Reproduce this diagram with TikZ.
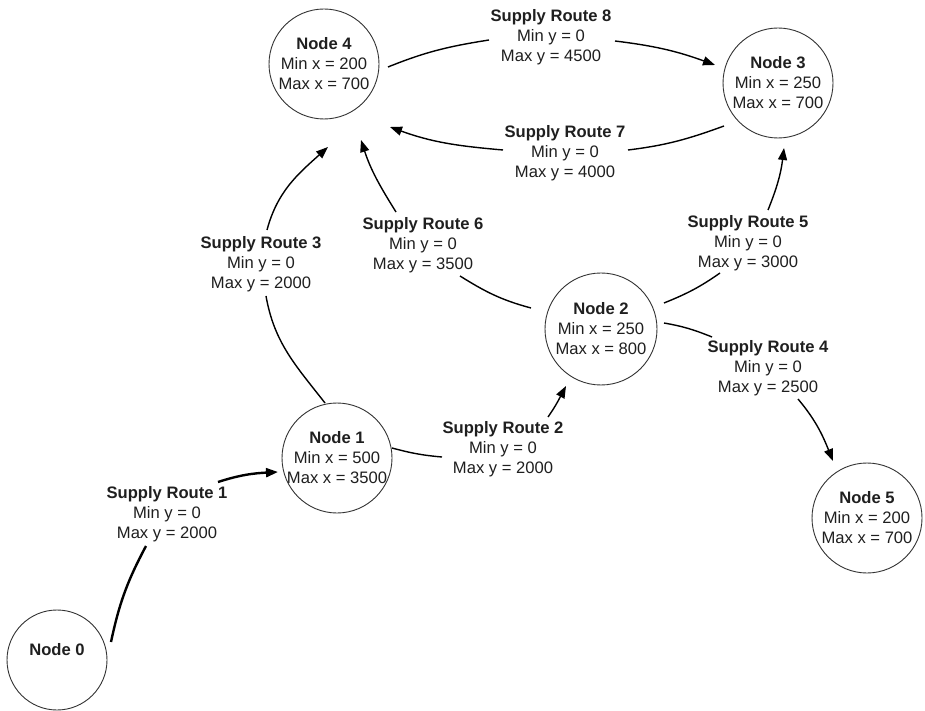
\documentclass[tikz,border=0pt]{standalone}
\usepackage{fontspec}
\setmainfont{Liberation Sans}
\usetikzlibrary{arrows.meta}
\begin{document}
\begin{tikzpicture}[x=1pt,y=1pt,
  site/.style={circle, draw=black!80, line width=0.9pt, minimum size=110pt, inner sep=0pt},
  sitetext/.style={align=center, font=\fontsize{16.6}{20}\selectfont, text=black!88, inner sep=0pt},
  routelabel/.style={align=center, font=\fontsize{16.6}{20}\selectfont, text=black!88, inner sep=0pt},
  routestart/.style={line width=1.4pt},
  route/.style={line width=1.4pt, -{Triangle[length=12pt,width=9pt]}},
  heavy/.style={line width=2.4pt}]
\useasboundingbox[fill=white] (0,0) rectangle (925,710);

% sites
\node[site, minimum size=100pt, label={[sitetext,yshift=10pt]center:{\textbf{Node 0}}}] (n0) at (57,50) {};
\node[site, label={[sitetext]center:{\textbf{Node 1}\\Min x = 500\\Max x = 3500}}] (n1) at (337,252) {};
\node[site, minimum size=112pt, label={[sitetext]center:{\textbf{Node 2}\\Min x = 250\\Max x = 800}}] (n2) at (601,381) {};
\node[site, label={[sitetext]center:{\textbf{Node 3}\\Min x = 250\\Max x = 700}}] (n3) at (778,627) {};
\node[site, label={[sitetext]center:{\textbf{Node 4}\\Min x = 200\\Max x = 700}}] (n4) at (324,646) {};
\node[site, label={[sitetext]center:{\textbf{Node 5}\\Min x = 200\\Max x = 700}}] (n5) at (867,192) {};

% route labels
\node[routelabel] (sr1) at (167,196) {\textbf{Supply Route 1}\\Min y = 0\\Max y = 2000};
\node[routelabel] (sr2) at (503,261) {\textbf{Supply Route 2}\\Min y = 0\\Max y = 2000};
\node[routelabel] (sr3) at (261,446) {\textbf{Supply Route 3}\\Min y = 0\\Max y = 2000};
\node[routelabel] (sr4) at (768,342) {\textbf{Supply Route 4}\\Min y = 0\\Max y = 2500};
\node[routelabel] (sr5) at (748,467) {\textbf{Supply Route 5}\\Min y = 0\\Max y = 3000};
\node[routelabel] (sr6) at (423,465) {\textbf{Supply Route 6}\\Min y = 0\\Max y = 3500};
\node[routelabel] (sr7) at (565,557) {\textbf{Supply Route 7}\\Min y = 0\\Max y = 4000};
\node[routelabel] (sr8) at (551,673) {\textbf{Supply Route 8}\\Min y = 0\\Max y = 4500};

% Supply Route 1
\draw[routestart,heavy] ([shift={(54,18)}]n0.center) to[out=78,in=242] ([shift={(-21,-32)}]sr1.center);
\draw[route,heavy] ([shift={(51,32)}]sr1.center) to[out=18,in=183] ([shift={(-59,-14)}]n1.center);
% Supply Route 2
\draw[routestart] ([shift={(55,10)}]n1.center) to[out=-15,in=175] ([shift={(-61,-8)}]sr2.center);
\draw[route] ([shift={(45,32)}]sr2.center) to[out=55,in=242] ([shift={(-35,-57)}]n2.center);
% Supply Route 3
\draw[routestart] ([shift={(-12,55)}]n1.center) to[out=128,in=-80] ([shift={(5,-32)}]sr3.center);
\draw[route] ([shift={(6,34)}]sr3.center) to[out=75,in=222] ([shift={(4,-83)}]n4.center);
% Supply Route 4
\draw[routestart] ([shift={(63,6)}]n2.center) to[out=-10,in=158] ([shift={(-56,31)}]sr4.center);
\draw[route] ([shift={(30,-31)}]sr4.center) to[out=-50,in=112] ([shift={(-34,57)}]n5.center);
% Supply Route 5
\draw[routestart] ([shift={(63,26)}]n2.center) to[out=22,in=215] ([shift={(-28,-30)}]sr5.center);
\draw[route] ([shift={(20,33)}]sr5.center) to[out=68,in=263] ([shift={(6,-65)}]n3.center);
% Supply Route 6
\draw[routestart] ([shift={(-70,21)}]n2.center) to[out=165,in=-32] ([shift={(37,-31)}]sr6.center);
\draw[route] ([shift={(-27,33)}]sr6.center) to[out=122,in=-72] ([shift={(37,-76)}]n4.center);
% Supply Route 7
\draw[routestart] ([shift={(-54,-43)}]n3.center) to[out=200,in=7] ([shift={(63,3)}]sr7.center);
\draw[route] ([shift={(-62,3)}]sr7.center) to[out=175,in=-20] ([shift={(66,-63)}]n4.center);
% Supply Route 8
\draw[routestart] ([shift={(64,-3)}]n4.center) to[out=22,in=189] ([shift={(-62,-3)}]sr8.center);
\draw[route] ([shift={(64,-4)}]sr8.center) to[out=-7,in=160] ([shift={(-63,18)}]n3.center);
\end{tikzpicture}
\end{document}
